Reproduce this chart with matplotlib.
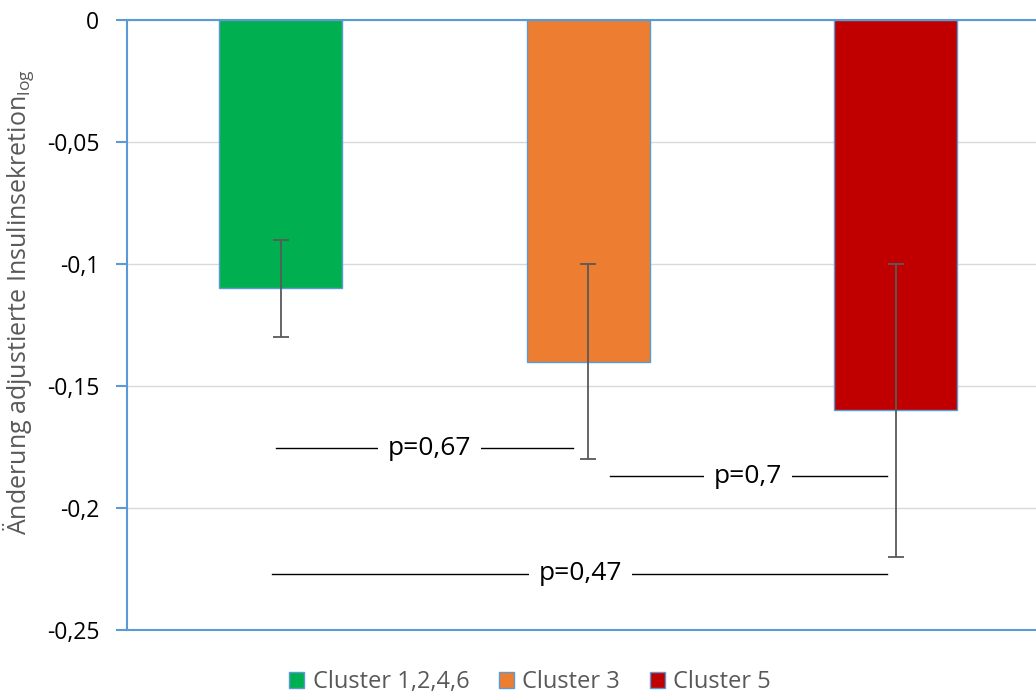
import matplotlib
matplotlib.use("Agg")
import matplotlib.pyplot as plt
from matplotlib.ticker import MultipleLocator, FuncFormatter
from matplotlib.patches import Patch

plt.rcParams['font.family'] = ['Open Sans', 'DejaVu Sans']
plt.rcParams['mathtext.fontset'] = 'custom'
plt.rcParams['mathtext.rm'] = 'Open Sans'

# data
clusters = ['Cluster 1,2,4,6', 'Cluster 3', 'Cluster 5']
means = [-0.11, -0.14, -0.16]
errors = [0.02, 0.04, 0.06]
colors = ['#00B050', '#ED7D31', '#C00000']

# significance brackets: (x_start, x_end, y, label, text_x)
p_labels = ['p=0,67', 'p=0,7', 'p=0,47']
p_x0 = [-0.015, 1.07, -0.03]
p_x1 = [0.95, 1.97, 1.97]
p_y = [-0.1755, -0.187, -0.227]
p_tx = [0.485, 1.52, 0.975]

blue = '#5B9BD5'

fig = plt.figure(figsize=(10.36, 6.93), dpi=100)
ax = fig.add_axes([127 / 1036, 1 - 630 / 693, 922.5 / 1036, 610 / 693])

x = list(range(len(clusters)))
ax.bar(x, means, width=0.4, color=colors, edgecolor=blue, linewidth=1, zorder=2)
ax.errorbar(x, means, yerr=errors, fmt='none', ecolor='#595959',
            elinewidth=1.3, capsize=6, capthick=1.3, zorder=3)

for x0, x1, y, lab, tx in zip(p_x0, p_x1, p_y, p_labels, p_tx):
    ax.plot([x0, x1], [y, y], color='black', lw=1, zorder=4)
    ax.text(tx, y, lab, ha='center', va='center', fontsize=19, color='black',
            bbox=dict(facecolor='white', edgecolor='none', pad=7), zorder=5)

ax.set_xlim(-0.5, 2.5)
ax.set_ylim(-0.25, 0)
ax.yaxis.set_major_locator(MultipleLocator(0.05))
ax.yaxis.set_major_formatter(FuncFormatter(
    lambda v, _: '0' if abs(v) < 1e-9 else ('%g' % round(v, 2)).replace('.', ',')))
ax.set_xticks([])
ax.grid(axis='y', color='#D9D9D9', lw=1, zorder=0)
ax.set_axisbelow(True)

ax.spines['right'].set_visible(False)
for s in ['left', 'top', 'bottom']:
    ax.spines[s].set_color(blue)
    ax.spines[s].set_linewidth(1.5)
ax.tick_params(axis='y', colors=blue, length=8, width=1.5, pad=12,
               labelsize=16.5, labelcolor='black')

ax.set_ylabel('Änderung adjustierte Insulinsekretion$_{\\mathrm{log}}$',
              fontsize=18, color='#595959')
ax.yaxis.set_label_coords(-90 / 922.5, 0.537)

handles = [Patch(facecolor=c, edgecolor=blue, label=l) for c, l in zip(colors, clusters)]
fig.legend(handles=handles, loc='center', bbox_to_anchor=(530 / 1036, 1 - 682 / 693),
           ncol=3, frameon=False, fontsize=17, handlelength=0.65, handleheight=0.65,
           handletextpad=0.35, columnspacing=1.25, labelcolor='#595959')

fig.savefig('out.png', dpi=100)
